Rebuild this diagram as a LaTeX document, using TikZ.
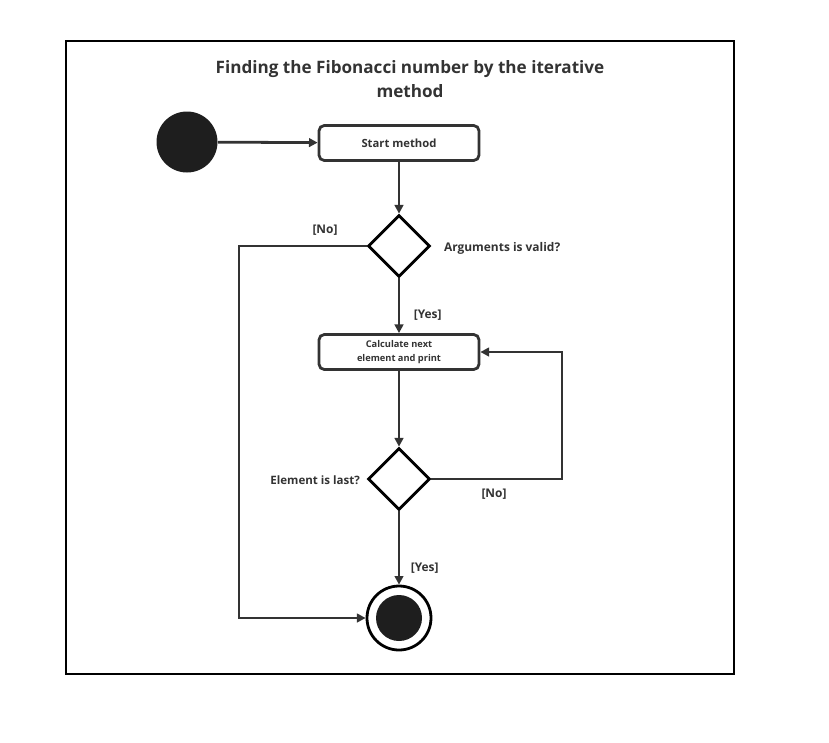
\documentclass[tikz,border=0pt]{standalone}
\usepackage{fontspec}
\setmainfont{Open Sans}
\usetikzlibrary{arrows.meta,positioning,shapes.geometric}
\definecolor{ink}{HTML}{333333}
\definecolor{blob}{HTML}{1E1E1E}

\begin{document}
\begin{tikzpicture}[x=.0265cm,y=-.0265cm,>={Triangle[length=6.5pt,width=6.5pt]},
  flow/.style={draw=ink,line width=2.1pt},
  action/.style={draw=ink,line width=2.1pt,rounded corners=4pt,minimum width=160*.0265cm,minimum height=35*.0265cm,align=center,font=\bfseries\fontsize{8.5}{10}\selectfont,text=ink},
  decision/.style={diamond,draw=black,line width=2.1pt,minimum width=62*.0265cm,minimum height=62*.0265cm,inner sep=0pt,aspect=1},
  guard/.style={font=\bfseries\fontsize{9}{11}\selectfont,text=ink}]
  \useasboundingbox (0,0) rectangle (829,742);
  \draw[line width=1.9pt] (66,41) rectangle (734,674);
  \node[align=center,font=\bfseries\fontsize{12.9}{17.5}\selectfont,text=ink] (title) at (410,79) {Finding the Fibonacci number by the iterative\\method};

  \node[circle,fill=blob,minimum size=61*.0265cm,inner sep=0pt] (init) at (187,142) {};
  \node[action] (start) at (399,143) {Start method};
  \node[decision] (valid) at (399,246) {};
  \node[guard,right=8*.0265cm of valid,yshift=-2*.0265cm] (validq) {Arguments is valid?};
  \node[action,font=\bfseries\fontsize{7}{10.5}\selectfont] (calc) at (399,352) {Calculate next\\element and print};
  \node[decision] (last) at (399,479) {};
  \node[guard,left=2*.0265cm of last,yshift=-1*.0265cm,font=\bfseries\fontsize{8.7}{11}\selectfont] (lastq) {Element is last?};
  \node[circle,draw=black,line width=2.1pt,minimum size=64*.0265cm,inner sep=0pt] (final) at (399,618) {};
  \node[circle,fill=blob,minimum size=46*.0265cm,inner sep=0pt] at (final) {};
  \coordinate (noleft) at (239,246);
  \coordinate (noright) at (562,479);

  \draw[flow,->] (init) -- (start);
  \draw[flow,->] (start) -- (valid);
  \draw[flow,->] (valid) -- node[guard,right=9*.0265cm,pos=.68] {[Yes]} (calc);
  \draw[flow,->] (valid.west) -- (noleft) |- (final);
  \node[guard] at (325,230) {[No]};
  \draw[flow,->] (calc) -- (last);
  \draw[flow,->] (last.east) -- (noright) |- (calc);
  \node[guard] at (494,494) {[No]};
  \draw[flow,->] (last) -- node[guard,right=6*.0265cm,pos=.78] {[Yes]} (final);
\end{tikzpicture}
\end{document}
